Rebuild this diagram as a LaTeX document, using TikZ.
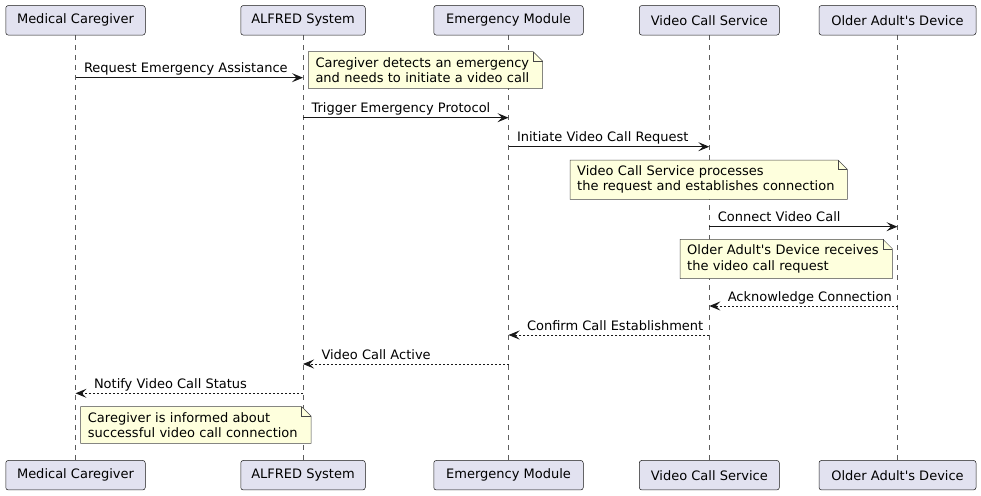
\documentclass[tikz,border=0pt]{standalone}
\usepackage{fontspec}
\setmainfont{DejaVu Sans}
\usetikzlibrary{arrows.meta,backgrounds}
\definecolor{partfill}{HTML}{E2E2F0}
\definecolor{notefill}{HTML}{FEFFDD}
\definecolor{umlline}{HTML}{181818}

\tikzset{
  party/.style={draw=umlline, fill=partfill, line width=0.5pt, rounded corners=2.5pt,
    minimum height=29.5pt, inner sep=0pt, font=\fontsize{13}{15}\selectfont},
  life/.style={draw=umlline!70, line width=0.5pt, dash pattern=on 5pt off 5pt},
  msg/.style={draw=umlline, line width=1pt, -{Stealth[length=11pt,width=9pt,inset=4.5pt]}},
  reply/.style={msg, dash pattern=on 2pt off 2pt},
  lbl/.style={font=\fontsize{13}{15}\selectfont, anchor=base west, inner sep=0pt, yshift=5pt},
  notebox/.style={anchor=north west, align=left, inner xsep=7pt, inner ysep=5.5pt,
    font=\fontsize{13}{15.3}\selectfont},
  notefold/.style={draw=umlline!80, fill=notefill, line width=0.5pt}
}
% note outline with a folded corner, drawn behind the text
\newcommand\foldnote[1]{%
  \begin{scope}[on background layer]
    \path[notefold] (#1.south west) -- (#1.north west) -- ([xshift=-9.5pt]#1.north east)
      -- ([yshift=-9.5pt]#1.north east) -- (#1.south east) -- cycle;
    \draw[umlline!80, line width=0.5pt] ([xshift=-9.5pt]#1.north east) |- ([yshift=-9.5pt]#1.north east);
  \end{scope}}

\begin{document}
\begin{tikzpicture}[x=1pt, y=-1pt]
\useasboundingbox (0,0) rectangle (981,495);

% participants, at top and bottom, with their lifelines
\foreach \n/\x/\w/\t in {mc/75.5/139.5/Medical Caregiver, as/303/124.5/ALFRED System,
    em/508.5/149.5/Emergency Module, vc/709.3/140/Video Call Service,
    od/897.5/157/Older Adult\textquotesingle s Device}{
  \node[party, minimum width=\w pt] (top-\n) at (\x,20.3) {\t};
  \node[party, minimum width=\w pt] (bot-\n) at (\x,475.2) {\t};
  \begin{scope}[on background layer]
    \draw[life] (top-\n) -- (bot-\n);
  \end{scope}
}

% message rows
\coordinate (r1) at (0,77.7);
\coordinate (r2) at (0,117.7);
\coordinate (r3) at (0,146.7);
\coordinate (r4) at (0,226.7);
\coordinate (r5) at (0,306);
\coordinate (r6) at (0,335);
\coordinate (r7) at (0,364);
\coordinate (r8) at (0,393.3);

\path
(top-mc |- r1) edge[msg] node[lbl, pos=0, xshift=8pt] {Request Emergency Assistance} (top-as |- r1)
(top-as |- r2) edge[msg] node[lbl, pos=0, xshift=8pt] {Trigger Emergency Protocol} (top-em |- r2)
(top-em |- r3) edge[msg] node[lbl, pos=0, xshift=8pt] {Initiate Video Call Request} (top-vc |- r3)
(top-vc |- r4) edge[msg] node[lbl, pos=0, xshift=8pt] {Connect Video Call} (top-od |- r4)
(top-od |- r5) edge[reply] node[lbl, pos=1, xshift=18pt] {Acknowledge Connection} (top-vc |- r5)
(top-vc |- r6) edge[reply] node[lbl, pos=1, xshift=18pt] {Confirm Call Establishment} (top-em |- r6)
(top-em |- r7) edge[reply] node[lbl, pos=1, xshift=18pt] {Video Call Active} (top-as |- r7)
(top-as |- r8) edge[reply] node[lbl, pos=1, xshift=18pt] {Notify Video Call Status} (top-mc |- r8)
;

% notes
\node[notebox, text width=220pt] (n1) at (308.3,51.7)
  {Caregiver detects an emergency\\and needs to initiate a video call};
\foldnote{n1}
\node[notebox, text width=263pt] (n2) at (570,160)
  {Video Call Service processes\\the request and establishes connection};
\foldnote{n2}
\node[notebox, text width=198pt] (n3) at (680,239.3)
  {Older Adult\textquotesingle s Device receives\\the video call request};
\foldnote{n3}
\node[notebox, text width=216pt] (n4) at (80.7,406.7)
  {Caregiver is informed about\\successful video call connection};
\foldnote{n4}
\end{tikzpicture}
\end{document}
